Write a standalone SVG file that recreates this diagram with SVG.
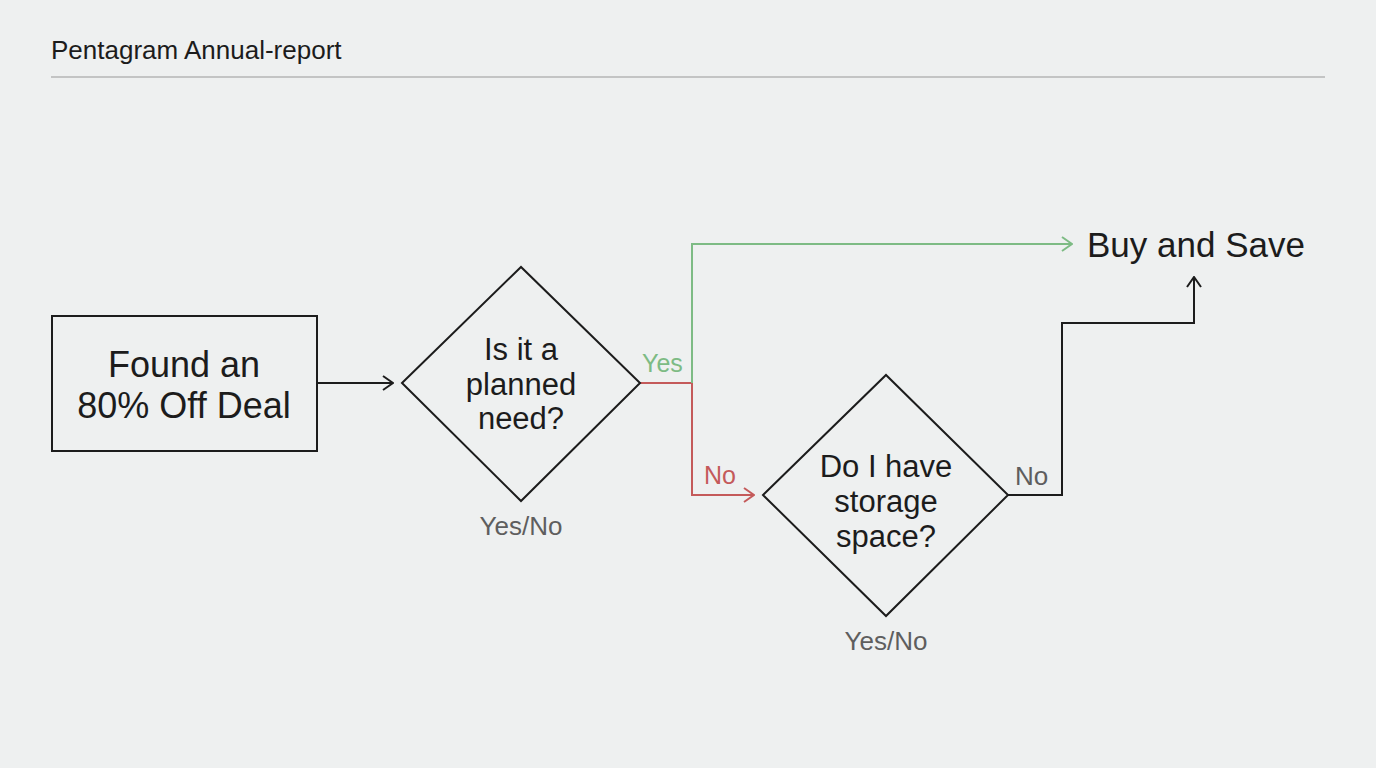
<svg xmlns="http://www.w3.org/2000/svg" width="1376" height="768" viewBox="0 0 1376 768">
<defs>
<style>
.t{font-family:"Liberation Sans",Arial,sans-serif;fill:#1c1c1c}
.lbl{font-family:"Liberation Sans",Arial,sans-serif;fill:#5e5e5e;font-size:26px}
.shape{fill:none;stroke:#1c1c1c;stroke-width:2}
.c{fill:none;stroke-width:2}
</style>
<marker id="ak" viewBox="0 0 12 16" refX="11" refY="8" markerWidth="12" markerHeight="16" markerUnits="userSpaceOnUse" orient="auto"><path d="M1,1 L11,8 L1,15" fill="none" stroke="#1c1c1c" stroke-width="2"/></marker>
<marker id="ag" viewBox="0 0 12 16" refX="11" refY="8" markerWidth="12" markerHeight="16" markerUnits="userSpaceOnUse" orient="auto"><path d="M1,1 L11,8 L1,15" fill="none" stroke="#7dbb84" stroke-width="2"/></marker>
<marker id="ar" viewBox="0 0 12 16" refX="11" refY="8" markerWidth="12" markerHeight="16" markerUnits="userSpaceOnUse" orient="auto"><path d="M1,1 L11,8 L1,15" fill="none" stroke="#c45a5a" stroke-width="2"/></marker>
</defs>
<rect width="1376" height="768" fill="#eef0f0"/>
<g id="header">
<text class="t" x="51" y="59" font-size="26">Pentagram Annual-report</text>
<line x1="51" y1="77" x2="1325" y2="77" stroke="#b4b6b6" stroke-width="1.5"/>
</g>
<g id="connectors">
<line class="c" x1="317" y1="383" x2="393" y2="383" stroke="#1c1c1c" marker-end="url(#ak)"/>
<polyline class="c" points="640,383 692,383 692,495 754,495" stroke="#c45a5a" marker-end="url(#ar)"/>
<polyline class="c" points="692,383 692,244 1072,244" stroke="#7dbb84" marker-end="url(#ag)"/>
<polyline class="c" points="1008,495 1062,495 1062,323 1194,323 1194,277" stroke="#1c1c1c" marker-end="url(#ak)"/>
<text x="642" y="372" font-family="Liberation Sans,Arial,sans-serif" font-size="25" fill="#7dbb84">Yes</text>
<text x="704" y="484" font-family="Liberation Sans,Arial,sans-serif" font-size="25" fill="#c45a5a">No</text>
<text class="lbl" x="1015" y="485" font-size="25">No</text>
</g>
<g id="start">
<rect class="shape" x="52" y="316" width="265" height="135"/>
<text class="t" x="184" y="377" font-size="36" text-anchor="middle">Found an</text>
<text class="t" x="184" y="418" font-size="36" text-anchor="middle">80% Off Deal</text>
</g>
<g id="decision1">
<polygon class="shape" points="402,383 521,267 640,383 521,501"/>
<text class="t" x="521" y="360" font-size="31" text-anchor="middle">Is it a</text>
<text class="t" x="521" y="395" font-size="31" text-anchor="middle">planned</text>
<text class="t" x="521" y="429" font-size="31" text-anchor="middle">need?</text>
<text class="lbl" x="521" y="535" text-anchor="middle">Yes/No</text>
</g>
<g id="decision2">
<polygon class="shape" points="763,495 886,375 1008,495 886,616"/>
<text class="t" x="886" y="477" font-size="31" text-anchor="middle">Do I have</text>
<text class="t" x="886" y="512" font-size="31" text-anchor="middle">storage</text>
<text class="t" x="886" y="547" font-size="31" text-anchor="middle">space?</text>
<text class="lbl" x="886" y="650" text-anchor="middle">Yes/No</text>
</g>
<g id="end">
<text class="t" x="1087" y="257" font-size="35">Buy and Save</text>
</g>
</svg>
